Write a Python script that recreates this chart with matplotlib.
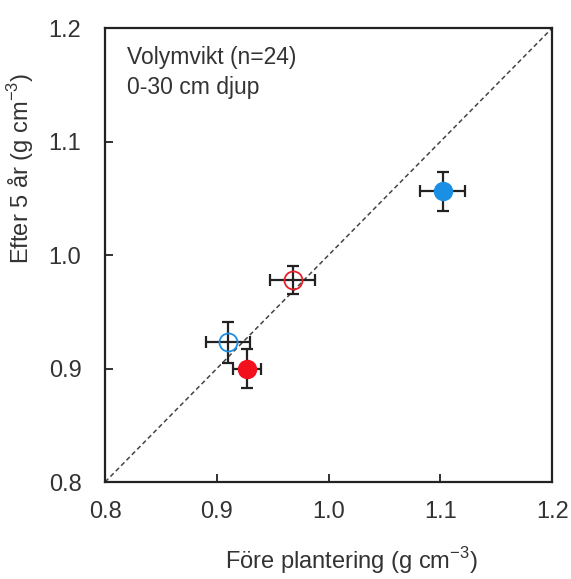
import numpy as np
import matplotlib
matplotlib.use('Agg')
import matplotlib.pyplot as plt

plt.rcParams['font.family'] = ['Liberation Sans', 'DejaVu Sans']
plt.rcParams['mathtext.fontset'] = 'custom'
plt.rcParams['mathtext.rm'] = 'Liberation Sans'

# Data: before planting (x) vs after 5 years (y)
fore = [1.102, 0.968, 0.910, 0.927]
efter = [1.056, 0.978, 0.923, 0.900]
fore_err = [0.020, 0.020, 0.020, 0.0125]
efter_err = [0.0175, 0.0125, 0.018, 0.017]
colors = ['#1a8fe3', '#e8202a', '#1a8fe3', '#f2101c']
filled = [True, False, False, True]

ticks = [0.8, 0.9, 1.0, 1.1, 1.2]
tick_labels = ['0.8', '0.9', '1.0', '1.1', '1.2']

fig = plt.figure(figsize=(5.71, 5.79), dpi=100)
ax = fig.add_axes([0.184, 0.1675, 0.783, 0.784])

# 1:1 line
ax.plot([0.8, 1.2], [0.8, 1.2], ls=(0, (3, 2)), color='#444444', lw=1.1, zorder=1)

for x, y, xe, ye, c, f in zip(fore, efter, fore_err, efter_err, colors, filled):
    ax.errorbar(x, y, xerr=xe, yerr=ye, fmt='none', ecolor='#222222',
                elinewidth=1.6, capsize=4.5, capthick=1.6, zorder=2)
    if f:
        ax.plot(x, y, 'o', ms=13, mfc=c, mec=c, zorder=3)
    else:
        ax.plot(x, y, 'o', ms=13, mfc='none', mec=c, mew=1.3, zorder=3)

ax.set_xlim(0.8, 1.2)
ax.set_ylim(0.8, 1.2)
ax.set_xticks(ticks)
ax.set_xticklabels(tick_labels)
ax.set_yticks(ticks)
ax.set_yticklabels(tick_labels)
ax.tick_params(direction='in', length=6, width=1.3, labelsize=17, color='#222222',
               labelcolor='#333333')
ax.tick_params(axis='x', pad=14)
ax.tick_params(axis='y', pad=17)
for s in ax.spines.values():
    s.set_linewidth(1.6)
    s.set_color('#222222')

ax.set_xlabel(r'Före plantering (g cm$^{\mathrm{-3}}$)', fontsize=17, color='#333333')
ax.set_ylabel(r'Efter 5 år (g cm$^{\mathrm{-3}}$)', fontsize=17, color='#333333')
ax.xaxis.set_label_coords(0.55, -0.14)
ax.yaxis.set_label_coords(-0.155, 0.69)

ax.text(0.05, 0.96, 'Volymvikt (n=24)\n0-30 cm djup', transform=ax.transAxes,
        fontsize=16.5, color='#333333', va='top', ha='left', linespacing=1.35)

plt.savefig('out.png', dpi=100)
